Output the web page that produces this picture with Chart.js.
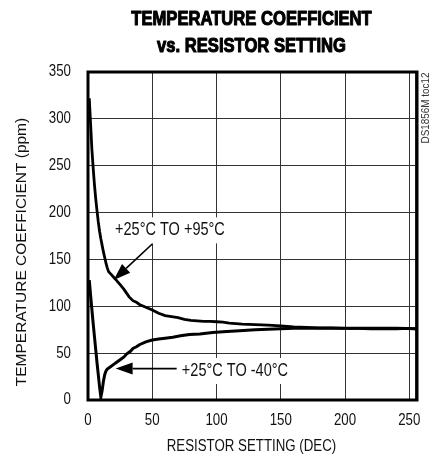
<!DOCTYPE html>
<html><head><meta charset="utf-8">
<script src="https://cdn.jsdelivr.net/npm/chart.js@4/dist/chart.umd.min.js"></script>
<style>html,body{margin:0;padding:0;background:#fff}#wrap{width:438px;height:459px}</style>
</head><body><div id="wrap"><canvas id="c" width="438" height="459"></canvas></div>
<script>
const xTicks = [0, 50, 100, 150, 200, 250];
const yTicks = [0, 50, 100, 150, 200, 250, 300, 350];
const titleLines = ['TEMPERATURE COEFFICIENT', 'vs. RESISTOR SETTING'];
const xTitle = 'RESISTOR SETTING (DEC)';
const yTitle = 'TEMPERATURE COEFFICIENT (ppm)';
const hotLabel = '+25°C TO +95°C';
const coldLabel = '+25°C TO -40°C';
const docCode = 'DS1856M toc12';

// +25°C to +95°C
const settingHot = [1, 2, 3, 4, 5, 6, 7, 8, 9, 10, 11, 12, 13, 14, 15, 16, 18, 20, 22, 25, 28, 30, 32, 35, 38, 40, 45, 50, 55, 60, 65, 70, 75, 80, 85, 90, 95, 100, 105, 110, 115, 120, 130, 140, 150, 160, 170, 180, 190, 200, 210, 220, 230, 240, 250, 255];
const tcHot = [322, 295, 268, 248, 230, 215, 202, 190, 180, 172, 165, 158, 152, 146, 141, 137, 134, 131, 128, 123, 118, 114, 110, 106, 104, 102, 99, 96, 92.5, 90, 89, 88, 86, 85, 84.5, 84, 84, 83.5, 83, 82, 81.5, 81, 80.5, 80, 79, 78, 77.5, 77, 77, 76.5, 76.5, 76, 76, 76, 76.5, 76];
// +25°C to -40°C
const settingCold = [1, 2, 3, 4, 5, 6, 7, 8, 9, 10, 11, 12, 13, 14, 15, 17, 20, 22, 25, 28, 30, 33, 35, 38, 40, 45, 50, 55, 60, 66, 72, 79, 87, 97, 108, 118, 130, 140, 150, 160, 170, 180, 200, 220, 240, 255];
const tcCold = [128, 112, 97, 82, 68, 54, 40, 27, 14, 3, 10, 20, 27, 31, 33, 35, 38, 40, 43, 46, 49, 52, 55, 57, 59, 62, 64, 65, 66, 67, 68.5, 70, 70.5, 72, 73, 74, 75, 75.5, 76, 76.5, 76.5, 76.5, 76.5, 76.5, 76.5, 76];

// annotation anchors in data units
const hotText = {x: 21, y: 181};
const hotArrow = {from: {x: 50, y: 166.5}, to: {x: 20, y: 128}};
const coldText = {x: 73, y: 31};
const coldArrow = {from: {x: 69, y: 33.5}, to: {x: 21.5, y: 33.5}};

const FAM = "'Liberation Sans', Arial, sans-serif";
const SX = 0.83;

function toPts(xs, ys) { return xs.map((x, i) => ({x: x, y: ys[i]})); }

function txt(ctx, s, x, y, o) {
  ctx.save();
  ctx.translate(x, y);
  if (o.rot) ctx.rotate(o.rot);
  ctx.scale(o.sx == null ? SX : o.sx, 1);
  ctx.font = (o.bold ? 'bold ' : '') + o.size + 'px ' + FAM;
  ctx.textAlign = o.align || 'center';
  ctx.textBaseline = 'middle';
  ctx.fillStyle = o.color || '#111';
  ctx.fillText(s, 0, 0);
  if (o.stroke) {
    ctx.strokeStyle = o.color || '#111';
    ctx.lineWidth = o.stroke;
    ctx.lineJoin = 'round';
    ctx.strokeText(s, 0, 0);
  }
  ctx.restore();
}
function txtW(ctx, s, size, sx) {
  ctx.save(); ctx.font = size + 'px ' + FAM;
  const w = ctx.measureText(s).width * (sx == null ? SX : sx);
  ctx.restore(); return w;
}

function arrow(ctx, x1, y1, x2, y2) {
  const ang = Math.atan2(y2 - y1, x2 - x1);
  const L = 17, W = 6;
  const bx = x2 - L * Math.cos(ang), by = y2 - L * Math.sin(ang);
  ctx.beginPath();
  ctx.moveTo(x1, y1); ctx.lineTo(bx, by);
  ctx.lineWidth = 1.6; ctx.strokeStyle = '#000'; ctx.stroke();
  ctx.beginPath();
  ctx.moveTo(x2, y2);
  ctx.lineTo(bx + W * Math.sin(ang), by - W * Math.cos(ang));
  ctx.lineTo(bx - W * Math.sin(ang), by + W * Math.cos(ang));
  ctx.closePath(); ctx.fillStyle = '#000'; ctx.fill();
}

const LBL = 17.5;

const decor = {
  id: 'decor',
  beforeDatasetsDraw(chart) {
    const {ctx, scales: {x, y}} = chart;
    ctx.save();
    ctx.fillStyle = '#fff';
    let w = txtW(ctx, hotLabel, LBL);
    ctx.fillRect(x.getPixelForValue(hotText.x) - 3, y.getPixelForValue(hotText.y) - 13, w + 6, 26);
    w = txtW(ctx, coldLabel, LBL);
    ctx.fillRect(x.getPixelForValue(coldText.x) - 3, y.getPixelForValue(coldText.y) - 13, w + 6, 26);
    ctx.restore();
  },
  afterDraw(chart) {
    const {ctx, chartArea: a, scales: {x, y}} = chart;
    ctx.save();
    // frame
    ctx.strokeStyle = '#000'; ctx.lineWidth = 3;
    ctx.strokeRect(a.left, a.top, a.right - a.left, a.bottom - a.top);
    // main title
    const cx = (a.left + a.right) / 2 - 1;
    txt(ctx, titleLines[0], cx, 19.5, {size: 20, bold: true, color: '#000', stroke: 1.1});
    txt(ctx, titleLines[1], cx, 46.5, {size: 20, bold: true, color: '#000', stroke: 1.1});
    // tick labels
    yTicks.forEach(v => txt(ctx, String(v), a.left - 17, y.getPixelForValue(v), {size: 16, align: 'right'}));
    xTicks.forEach(v => txt(ctx, String(v), x.getPixelForValue(v), 421, {size: 16}));
    // axis titles
    txt(ctx, xTitle, (a.left + a.right) / 2 - 1, 447, {size: 16});
    txt(ctx, yTitle, 22, 252, {size: 15.5, sx: 1, rot: -Math.PI / 2});
    // doc code
    txt(ctx, docCode, 426, 108, {size: 11, sx: 0.9, rot: -Math.PI / 2, color: '#333'});
    // curve labels
    txt(ctx, hotLabel, x.getPixelForValue(hotText.x), y.getPixelForValue(hotText.y), {size: LBL, align: 'left'});
    txt(ctx, coldLabel, x.getPixelForValue(coldText.x), y.getPixelForValue(coldText.y), {size: LBL, align: 'left'});
    arrow(ctx, x.getPixelForValue(hotArrow.from.x), y.getPixelForValue(hotArrow.from.y), x.getPixelForValue(hotArrow.to.x), y.getPixelForValue(hotArrow.to.y));
    arrow(ctx, x.getPixelForValue(coldArrow.from.x), y.getPixelForValue(coldArrow.from.y), x.getPixelForValue(coldArrow.to.x), y.getPixelForValue(coldArrow.to.y));
    ctx.restore();
  }
};

new Chart(document.getElementById('c'), {
  type: 'scatter',
  data: {
    datasets: [
      {label: hotLabel, data: toPts(settingHot, tcHot), showLine: true, borderColor: '#000', borderWidth: 2.8, pointRadius: 0, tension: 0},
      {label: coldLabel, data: toPts(settingCold, tcCold), showLine: true, borderColor: '#000', borderWidth: 3, pointRadius: 0, tension: 0}
    ]
  },
  options: {
    responsive: false, devicePixelRatio: 1, animation: false,
    layout: {padding: {left: 0, right: 21, top: 72, bottom: 0}},
    plugins: {legend: {display: false}, tooltip: {enabled: false}, title: {display: false}},
    scales: {
      x: {
        type: 'linear', min: 0, max: 256,
        afterBuildTicks: s => { s.ticks = xTicks.concat([255]).map(v => ({value: v})); },
        afterFit: s => { s.height = 59; },
        grid: {color: '#333', lineWidth: 1, drawTicks: false},
        border: {display: false},
        ticks: {display: false}
      },
      y: {
        type: 'linear', min: 0, max: 350,
        afterBuildTicks: s => { s.ticks = yTicks.map(v => ({value: v})); },
        afterFit: s => { s.width = 88; },
        grid: {color: '#333', lineWidth: 1, drawTicks: false},
        border: {display: false},
        ticks: {display: false}
      }
    }
  },
  plugins: [decor]
});
</script></body></html>
